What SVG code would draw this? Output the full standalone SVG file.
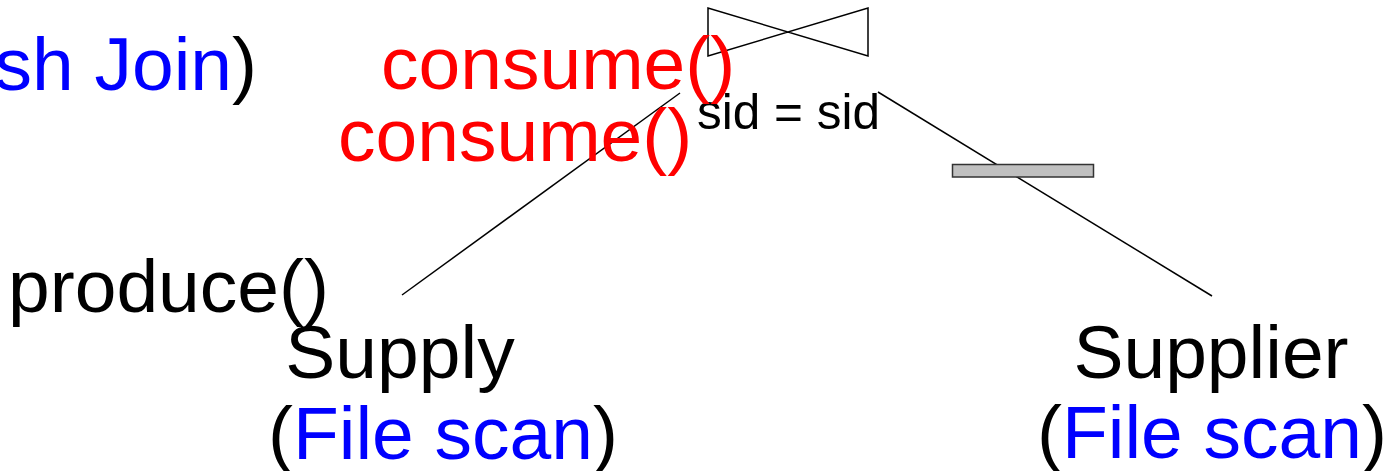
<svg xmlns="http://www.w3.org/2000/svg" width="1388" height="471" viewBox="0 0 1388 471">
<style>
text{font-family:"Liberation Sans",Arial,sans-serif;font-size:75px;fill:#000}
.blue{fill:#0000ff}
.red{fill:#ff0000}
.edge{stroke:#000;stroke-width:1.5;fill:none}
</style>
<rect width="1388" height="471" fill="#fff"/>
<g id="connectors">
<line class="edge" x1="402" y1="295" x2="680" y2="93"/>
<line class="edge" x1="878" y1="92" x2="1212" y2="296"/>
</g>
<g id="join">
<path d="M708,8 L708,56 L868,8 L868,56 Z" fill="none" stroke="#000" stroke-width="1.5" stroke-linejoin="miter"/>
<text x="697" y="129" style="font-size:49.5px">sid = sid</text>
</g>
<g id="filter">
<rect x="952.5" y="164.5" width="141" height="12.5" fill="#c0c0c0" stroke="#333" stroke-width="1.5"/>
</g>
<g id="join-label">
<text x="257" y="90" text-anchor="end"><tspan class="blue">sh Join</tspan>)</text>
</g>
<g id="consume-1">
<text x="381" y="89" class="red">consume()</text>
</g>
<g id="consume-2">
<text x="338" y="161" class="red">consume()</text>
</g>
<g id="produce">
<text x="8" y="312">produce()</text>
</g>
<g id="supply">
<text x="400" y="378" text-anchor="middle">Supply</text>
<text x="443" y="459" text-anchor="middle">(<tspan class="blue">File scan</tspan>)</text>
</g>
<g id="supplier">
<text x="1211" y="378" text-anchor="middle">Supplier</text>
<text x="1212" y="458" text-anchor="middle">(<tspan class="blue">File scan</tspan>)</text>
</g>
</svg>
